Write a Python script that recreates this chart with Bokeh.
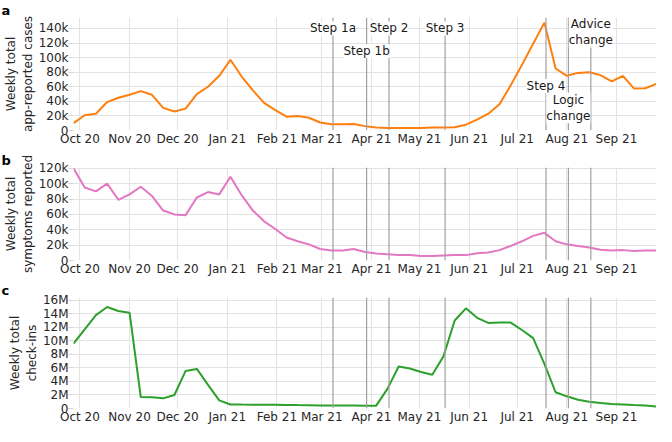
import pandas as pd
from bokeh.plotting import figure
from bokeh.models import Span, Label, FixedTicker, Range1d, DatetimeTickFormatter, ColumnDataSource, Title
from bokeh.layouts import column
from bokeh.embed import file_html
from bokeh.resources import INLINE

weeks = ["2020-09-27", "2020-10-04", "2020-10-11", "2020-10-18", "2020-10-25",
         "2020-11-01", "2020-11-08", "2020-11-15", "2020-11-22", "2020-11-29",
         "2020-12-06", "2020-12-13", "2020-12-20", "2020-12-27", "2021-01-03",
         "2021-01-10", "2021-01-17", "2021-01-24", "2021-01-31", "2021-02-07",
         "2021-02-14", "2021-02-21", "2021-02-28", "2021-03-07", "2021-03-14",
         "2021-03-21", "2021-03-28", "2021-04-04", "2021-04-11", "2021-04-18",
         "2021-04-25", "2021-05-02", "2021-05-09", "2021-05-16", "2021-05-23",
         "2021-05-30", "2021-06-06", "2021-06-13", "2021-06-20", "2021-06-27",
         "2021-07-04", "2021-07-11", "2021-07-18", "2021-07-25", "2021-08-01",
         "2021-08-08", "2021-08-15", "2021-08-22", "2021-08-29", "2021-09-05",
         "2021-09-12", "2021-09-19", "2021-09-26"]

cases_k = [10, 21, 23, 39, 45, 49, 54, 49, 31, 26,
           30, 50, 60, 75, 97, 74, 55, 38, 28, 19,
           20, 17.5, 11, 8.5, 8.5, 9, 6, 4, 3.5, 3.5,
           3.5, 3.5, 4, 4, 4.5, 8, 15, 23, 36, 62,
           90, 119, 148, 85, 75, 79, 80, 76, 67.5, 75,
           57.5, 58, 64]

symptoms_k = [120, 95, 90, 100, 79, 86, 96, 84, 65, 60,
              59, 82, 89, 86, 109, 85, 65, 51, 41, 30,
              25, 21, 15, 13, 13, 15, 11, 9, 8, 7,
              7, 6, 6, 6.5, 7, 7, 9.5, 10.5, 13.5, 19,
              25, 32, 36, 25, 21, 19, 17, 14, 13, 13.5,
              12.5, 13, 13]

checkins_m = [9.6, 11.7, 13.8, 15.0, 14.4, 14.15, 1.7, 1.65, 1.5, 2.0,
              5.55, 5.85, 3.5, 1.2, 0.6, 0.58, 0.57, 0.56, 0.55, 0.53,
              0.5, 0.48, 0.46, 0.45, 0.44, 0.43, 0.42, 0.42, 2.9, 6.2,
              5.9, 5.4, 5.0, 7.7, 13.0, 14.8, 13.4, 12.65, 12.7, 12.7,
              11.6, 10.4, 6.6, 2.4, 1.8, 1.3, 1.0, 0.8, 0.65, 0.58,
              0.5, 0.45, 0.3]

month_ticks = ["2020-10-01", "2020-11-01", "2020-12-01", "2021-01-01", "2021-02-01",
               "2021-03-01", "2021-04-01", "2021-05-01", "2021-06-01", "2021-07-01",
               "2021-08-01", "2021-09-01"]

event_dates = ["2021-03-08", "2021-03-29", "2021-04-12", "2021-05-17",
               "2021-07-19", "2021-08-02", "2021-08-16"]
event_names = ["Step 1a", "Step 1b", "Step 2", "Step 3", "Step 4",
               "Logic\nchange", "Advice\nchange"]
event_label_k = [140, 109, 140, 140, 61, 31, 135]

cases_ticks = [0, 20, 40, 60, 80, 100, 120, 140]
symptoms_ticks = [0, 20, 40, 60, 80, 100, 120]
checkins_ticks = [0, 2, 4, 6, 8, 10, 12, 14, 16]


def ms(s):
    return (pd.Timestamp(s) - pd.Timestamp("1970-01-01")) // pd.Timedelta("1ms")


x = pd.to_datetime(weeks)
xmin, xmax = ms(weeks[0]), ms(weeks[-1])
FONT = "DejaVu Sans"
TXT = "#262626"
GRID = "#e3e3e3"


def make(values, color, ymax, yticks, unit, ylabel, letter, h, top, bottom):
    p = figure(width=656, height=h, x_axis_type="datetime",
               x_range=Range1d(xmin, xmax), y_range=Range1d(0, ymax),
               output_backend="svg", toolbar_location=None,
               min_border_left=72, min_border_right=0,
               min_border_top=top, min_border_bottom=bottom)
    p.outline_line_color = None
    p.add_layout(Title(text=letter, align="left", offset=-72, standoff=0,
                       text_font=FONT, text_font_style="bold",
                       text_font_size="13px", text_color="black"), "above")
    src = ColumnDataSource(dict(x=x, y=values))
    p.line("x", "y", source=src, line_color=color, line_width=2)
    for d in event_dates:
        p.add_layout(Span(location=ms(d), dimension="height",
                          line_color="#a0a0a0", line_width=1.2))
    p.xaxis.ticker = FixedTicker(ticks=[ms(t) for t in month_ticks])
    p.xaxis.formatter = DatetimeTickFormatter(months="%b %y", days="%b %y")
    p.yaxis.ticker = FixedTicker(ticks=yticks)
    p.yaxis.major_label_overrides = {t: ("0" if t == 0 else f"{t}{unit}") for t in yticks}
    for ax in (p.xaxis[0], p.yaxis[0]):
        ax.axis_line_color = None
        ax.minor_tick_line_color = None
        ax.major_label_text_font = FONT
        ax.major_label_text_font_size = "12px"
        ax.major_label_text_color = TXT
    p.xaxis.major_tick_line_color = None
    p.xaxis.major_tick_out = 0
    p.xaxis.major_label_standoff = 1
    p.yaxis.major_tick_line_color = "#d5d5d5"
    p.yaxis.major_tick_out = 5
    p.yaxis.major_tick_in = 0
    p.yaxis.major_label_standoff = 0
    p.yaxis.axis_label = ylabel
    p.yaxis.axis_label_text_font = FONT
    p.yaxis.axis_label_text_font_size = "12px"
    p.yaxis.axis_label_text_font_style = "normal"
    p.yaxis.axis_label_text_color = TXT
    p.yaxis.axis_label_standoff = 1
    p.xgrid.grid_line_color = GRID
    p.ygrid.grid_line_color = GRID
    return p


pa = make(cases_k, "#ff7f0e", 155, cases_ticks, "k",
          "Weekly total\napp-reported cases", "a", 150, 12, 20)
for d, name, yk in zip(event_dates, event_names, event_label_k):
    pa.add_layout(Label(x=ms(d), y=yk, text=name, text_align="center",
                        text_baseline="middle", text_font=FONT,
                        text_font_size="12px", text_color="#1a1a1a",
                        background_fill_color="white"))

pb = make(symptoms_k, "#e377c2", 121, symptoms_ticks, "k",
          "Weekly total\nsymptoms reported", "b", 130, 12, 20)
pc = make(checkins_m, "#2ca02c", 16.4, checkins_ticks, "M",
          "Weekly total\ncheck-ins", "c", 146, 12, 18)

layout = column(pa, pb, pc, spacing=0)
open("out.html", "w").write(file_html(layout, INLINE))
